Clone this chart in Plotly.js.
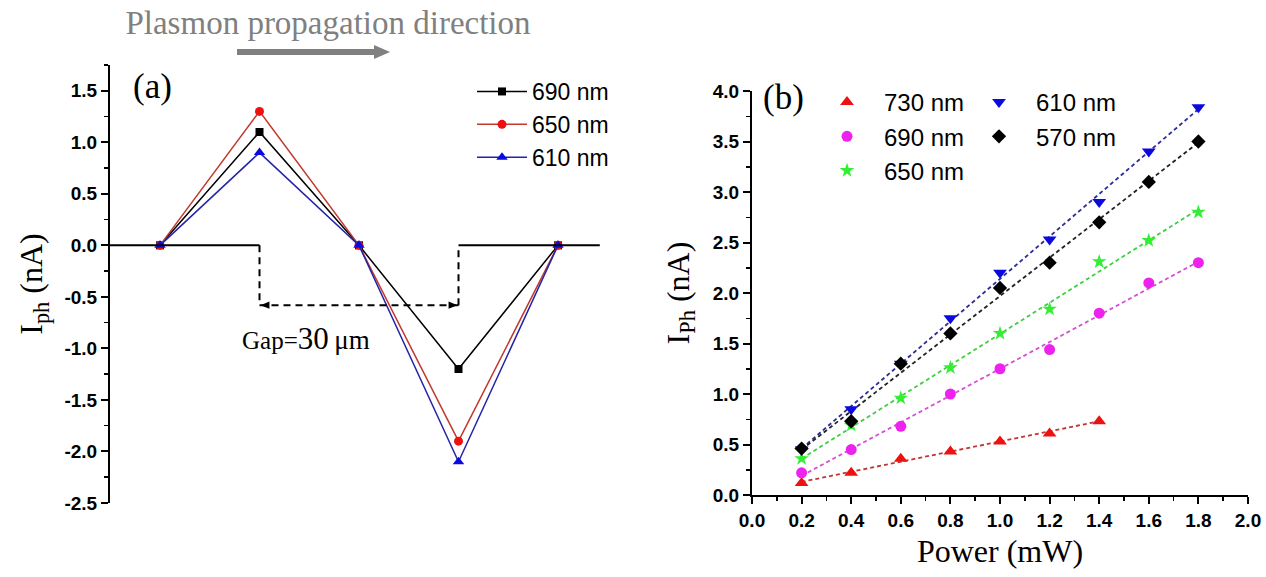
<!DOCTYPE html>
<html><head><meta charset="utf-8">
<script src="https://cdn.plot.ly/plotly-3.0.1.min.js"></script>
<style>html,body{margin:0;padding:0;background:#fff}#chart{width:1266px;height:577px}</style>
</head><body><div id="chart"></div>
<script>
// ---------- Panel (a) data ----------
const posA = [1, 2, 3, 4, 5];
const a690 = [0, 1.1, 0, -1.2, 0];
const a650 = [0, 1.3, 0, -1.9, 0];
const a610 = [0, 0.9, 0, -2.1, 0];
const namesA = ['690 nm', '650 nm', '610 nm'];
const yTicksA = [-2.5, -2.0, -1.5, -1.0, -0.5, 0.0, 0.5, 1.0, 1.5];
const gapEdges = [2, 4];
const gapLevel = -0.58;
const electrodeEnds = [0.4975, 5.42];

// ---------- Panel (b) data ----------
const power = [0.2, 0.4, 0.6, 0.8, 1.0, 1.2, 1.4, 1.6, 1.8];
const b730 = [0.12, 0.22, 0.36, 0.43, 0.53, 0.61, 0.73];
const b690 = [0.22, 0.45, 0.68, 1.0, 1.25, 1.44, 1.8, 2.1, 2.3];
const b650 = [0.36, 0.69, 0.96, 1.26, 1.6, 1.84, 2.31, 2.52, 2.8];
const b610 = [0.45, 0.85, 1.3, 1.75, 2.2, 2.53, 2.9, 3.4, 3.84];
const b570 = [0.46, 0.73, 1.3, 1.6, 2.05, 2.3, 2.7, 3.1, 3.5];
const fitX730 = [0.2, 1.4];
const fitX = [0.2, 1.8];
const fit730 = [0.13, 0.73];
const fit690 = [0.19, 2.31];
const fit650 = [0.36, 2.83];
const fit610 = [0.46, 3.82];
const fit570 = [0.45, 3.49];
const namesB = ['730 nm', '690 nm', '650 nm', '610 nm', '570 nm'];
const xTicksB = [0.0, 0.2, 0.4, 0.6, 0.8, 1.0, 1.2, 1.4, 1.6, 1.8, 2.0];
const yTicksB = [0.0, 0.5, 1.0, 1.5, 2.0, 2.5, 3.0, 3.5, 4.0];

// ---------- helpers ----------
const W = 1266, H = 577;
const px = x => x / W;
const py = y => 1 - y / H;
const SANS = 'Liberation Sans, Arial, sans-serif';
const SERIF = 'Liberation Serif, Times New Roman, serif';
const tickFont = {family: SANS, size: 19, weight: 'bold', color: '#000'};
const fmt = v => v.toFixed(1);

const traces = [
  {x: posA, y: a690, name: namesA[0], mode: 'lines+markers', legend: 'legend',
   line: {color: '#000', width: 1.5}, marker: {symbol: 'square', size: 8, color: '#000'}},
  {x: posA, y: a650, name: namesA[1], mode: 'lines+markers', legend: 'legend',
   line: {color: '#c0392f', width: 1.5}, marker: {symbol: 'circle', size: 9, color: '#ee1111'}},
  {x: posA, y: a610, name: namesA[2], mode: 'lines+markers', legend: 'legend',
   line: {color: '#2424a8', width: 1.5}, marker: {symbol: 'triangle-up', size: 10, color: '#0a0ae0'}},
  // fits (b)
  {x: fitX730, y: fit730, xaxis: 'x2', yaxis: 'y2', mode: 'lines', showlegend: false, line: {color: '#c23535', width: 1.8, dash: '4px,3px'}},
  {x: fitX, y: fit690, xaxis: 'x2', yaxis: 'y2', mode: 'lines', showlegend: false, line: {color: '#d44fd4', width: 1.8, dash: '4px,3px'}},
  {x: fitX, y: fit650, xaxis: 'x2', yaxis: 'y2', mode: 'lines', showlegend: false, line: {color: '#3fcf3f', width: 1.8, dash: '4px,3px'}},
  {x: fitX, y: fit610, xaxis: 'x2', yaxis: 'y2', mode: 'lines', showlegend: false, line: {color: '#2d2d99', width: 1.8, dash: '4px,3px'}},
  {x: fitX, y: fit570, xaxis: 'x2', yaxis: 'y2', mode: 'lines', showlegend: false, line: {color: '#222', width: 1.8, dash: '4px,3px'}},
  // markers (b)
  {x: power.slice(0, b730.length), y: b730, name: namesB[0], xaxis: 'x2', yaxis: 'y2', mode: 'markers', legend: 'legend2',
   marker: {symbol: 'triangle-up', size: 12, color: '#ee1111'}},
  {x: power, y: b690, name: namesB[1], xaxis: 'x2', yaxis: 'y2', mode: 'markers', legend: 'legend2',
   marker: {symbol: 'circle', size: 11, color: '#ee22ee'}},
  {x: power, y: b650, name: namesB[2], xaxis: 'x2', yaxis: 'y2', mode: 'markers', legend: 'legend2',
   marker: {symbol: 'star', size: 11, color: '#33ee33'}},
  {x: power, y: b610, name: namesB[3], xaxis: 'x2', yaxis: 'y2', mode: 'markers', legend: 'legend3',
   marker: {symbol: 'triangle-down', size: 12, color: '#0a0ae0'}},
  {x: power, y: b570, name: namesB[4], xaxis: 'x2', yaxis: 'y2', mode: 'markers', legend: 'legend3',
   marker: {symbol: 'diamond', size: 11, color: '#000'}}
];

const dashLine = {color: '#000', width: 2, dash: '7px,5px'};
const shapes = [
  {type: 'line', xref: 'x', yref: 'y', x0: electrodeEnds[0], x1: gapEdges[0], y0: 0, y1: 0, line: {color: '#000', width: 2}},
  {type: 'line', xref: 'x', yref: 'y', x0: gapEdges[1], x1: electrodeEnds[1], y0: 0, y1: 0, line: {color: '#000', width: 2}},
  {type: 'line', xref: 'x', yref: 'y', x0: gapEdges[0], x1: gapEdges[0], y0: 0, y1: gapLevel, line: dashLine},
  {type: 'line', xref: 'x', yref: 'y', x0: gapEdges[1], x1: gapEdges[1], y0: gapLevel, y1: 0, line: dashLine},
  {type: 'line', xref: 'x', yref: 'y', x0: gapEdges[0], x1: gapEdges[1], y0: gapLevel, y1: gapLevel, line: dashLine},
  {type: 'path', xref: 'x', yref: 'y', fillcolor: '#000', line: {width: 0},
   path: `M ${gapEdges[0] + 0.01},${gapLevel} L ${gapEdges[0] + 0.1},${gapLevel + 0.035} L ${gapEdges[0] + 0.1},${gapLevel - 0.035} Z`},
  {type: 'path', xref: 'x', yref: 'y', fillcolor: '#000', line: {width: 0},
   path: `M ${gapEdges[1] - 0.01},${gapLevel} L ${gapEdges[1] - 0.1},${gapLevel + 0.035} L ${gapEdges[1] - 0.1},${gapLevel - 0.035} Z`},
  // propagation direction arrow
  {type: 'line', xref: 'paper', yref: 'paper', x0: px(237), x1: px(377), y0: py(52), y1: py(52), line: {color: '#808080', width: 6}},
  {type: 'path', xref: 'paper', yref: 'paper', fillcolor: '#808080', line: {width: 0},
   path: `M ${px(374)},${py(45)} L ${px(390)},${py(52)} L ${px(374)},${py(59)} Z`}
];

const annotations = [
  {xref: 'paper', yref: 'paper', x: px(131), xanchor: 'left', y: py(65), text: '(a)', showarrow: false,
   font: {family: SERIF, size: 35, color: '#000'}},
  {xref: 'paper', yref: 'paper', x: px(761), xanchor: 'left', y: py(76), text: '(b)', showarrow: false,
   font: {family: SERIF, size: 35, color: '#000'}},
  {xref: 'paper', yref: 'paper', x: px(240), xanchor: 'left', y: py(338), text: 'Gap=<span style="font-size:31px">30</span><span style="font-size:27px">\u2009μm</span>', showarrow: false,
   font: {family: SERIF, size: 25, color: '#000'}}
];

const axisCommon = {
  automargin: false, showline: true, linewidth: 2, linecolor: '#000',
  ticks: 'outside', ticklen: 7, tickwidth: 2, tickcolor: '#000',
  tickmode: 'array', tickfont: tickFont, showgrid: false, zeroline: false
};
const minorTicks = dt => ({tickmode: 'linear', tick0: 0, dtick: dt, ticks: 'outside', ticklen: 4, tickwidth: 1.5, tickcolor: '#000', showgrid: false});

const layout = {
  width: W, height: H, autosize: false,
  margin: {l: 0, r: 0, t: 0, b: 0},
  paper_bgcolor: '#fff', plot_bgcolor: 'rgba(0,0,0,0)',
  title: {text: 'Plasmon propagation direction', x: px(328), xanchor: 'center', xref: 'container',
          y: 1 - 22 / H, yanchor: 'middle', yref: 'container',
          font: {family: SERIF, size: 33, color: '#808080'}},
  xaxis: {domain: [px(110), px(605)], range: [0.4975, 5.4724], visible: false, fixedrange: true},
  yaxis: Object.assign({}, axisCommon, {
          domain: [py(503), py(65)], range: [-2.5, 1.75], anchor: 'x',
          tickvals: yTicksA, ticktext: yTicksA.map(fmt), minor: minorTicks(0.25),
          title: {text: 'I<sub>ph</sub> (nA)', standoff: 12, font: {family: SERIF, size: 32, color: '#000'}}}),
  xaxis2: Object.assign({}, axisCommon, {
           domain: [px(752), px(1248)], range: [0, 2.0], anchor: 'y2',
           tickvals: xTicksB, ticktext: xTicksB.map(fmt), minor: minorTicks(0.1),
           title: {text: 'Power (mW)', standoff: 10, font: {family: SERIF, size: 32, color: '#000'}}}),
  yaxis2: Object.assign({}, axisCommon, {
           domain: [py(495), py(91)], range: [0, 4.0], anchor: 'x2',
           tickvals: yTicksB, ticktext: yTicksB.map(fmt), minor: minorTicks(0.25),
           title: {text: 'I<sub>Ph</sub> (nA)', standoff: 14, font: {family: SERIF, size: 32, color: '#000'}}}),
  legend: {x: px(472), y: py(70), xanchor: 'left', yanchor: 'top', bgcolor: 'rgba(0,0,0,0)',
           itemwidth: 50, font: {family: SANS, size: 23, color: '#000'}},
  legend2: {x: px(810), y: py(80), xanchor: 'left', yanchor: 'top', bgcolor: 'rgba(0,0,0,0)',
            itemwidth: 64, font: {family: SANS, size: 24, color: '#000'}},
  legend3: {x: px(962), y: py(80), xanchor: 'left', yanchor: 'top', bgcolor: 'rgba(0,0,0,0)',
            itemwidth: 64, font: {family: SANS, size: 24, color: '#000'}},
  shapes: shapes,
  annotations: annotations
};

Plotly.newPlot('chart', traces, layout, {displayModeBar: false, staticPlot: true});
</script>
</body></html>
